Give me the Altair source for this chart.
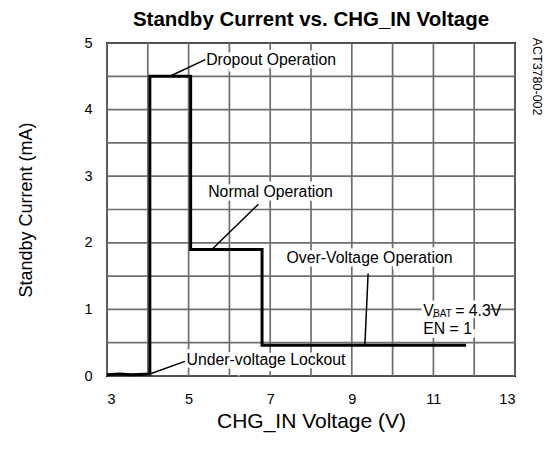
import altair as alt
import pandas as pd

# Curve data (CHG_IN voltage in V, standby current in mA)
volts = [3.0, 3.3, 3.6, 4.05, 4.05, 5.05, 5.05, 6.8, 6.8, 11.8]
current = [0.02, 0.03, 0.02, 0.03, 4.5, 4.5, 1.9, 1.9, 0.46, 0.46]

x_ticks = list(range(3, 14))
y_ticks = [i * 0.5 for i in range(11)]

# annotation labels (data coordinates)
ann_text = ["Dropout Operation", "Normal Operation", "Over-Voltage Operation", "Under-voltage Lockout", "EN = 1"]
ann_x = [5.43, 5.48, 7.40, 4.95, 10.75]
ann_y = [4.75, 2.77, 1.77, 0.24, 0.71]

# leader lines
lead_x1 = [4.54, 5.57, 9.32, 4.05]
lead_y1 = [4.5, 1.9, 0.46, 0.03]
lead_x2 = [5.41, 6.71, 9.40, 4.91]
lead_y2 = [4.75, 2.58, 1.54, 0.22]

FONT = "Liberation Sans"
AFS = 15.8

curve = pd.DataFrame({"v": volts, "i": current, "o": range(len(volts))})
ann = pd.DataFrame({"t": ann_text, "x": ann_x, "y": ann_y})
lead = pd.DataFrame({"x": lead_x1, "y": lead_y1, "x2": lead_x2, "y2": lead_y2})
vbat = pd.DataFrame({"x": [10.75], "y": [0.98]})
code = pd.DataFrame({"x": [13.54], "y": [5.08], "t": ["ACT3780-002"]})
gx = pd.DataFrame({"g": x_ticks})
gy = pd.DataFrame({"g": y_ticks})

xs = alt.Scale(domain=[3, 13], nice=False, zero=False)
ys = alt.Scale(domain=[0, 5], nice=False)

xax = alt.Axis(values=x_ticks, labelExpr="datum.value % 2 == 1 ? format(datum.value, 'd') : ''",
               grid=False, ticks=False, domain=False, labelPadding=16, labelFontSize=14.5,
               title="CHG_IN Voltage (V)", titleFontSize=21, titleFontWeight="normal", titlePadding=5)
yax = alt.Axis(values=y_ticks, labelExpr="datum.value % 1 == 0 ? format(datum.value, 'd') : ''",
               grid=False, ticks=False, domain=False, labelPadding=15, labelFontSize=14.5,
               title="Standby Current (mA)", titleFontSize=18, titleFontWeight="normal", titlePadding=48)

grid_x = alt.Chart(gx).mark_rule(color="#6e6e6e", strokeWidth=1.7).encode(
    x=alt.X("g:Q", scale=xs, axis=xax))
grid_y = alt.Chart(gy).mark_rule(color="#6e6e6e", strokeWidth=1.7).encode(
    y=alt.Y("g:Q", scale=ys, axis=yax))

base_curve = alt.Chart(curve).mark_line(color="black", strokeWidth=3, clip=False).encode(
    x=alt.X("v:Q", scale=xs),
    y=alt.Y("i:Q", scale=ys),
    order="o:Q",
)

halo = alt.Chart(ann).mark_text(align="left", baseline="middle", fontSize=AFS, font=FONT,
                                 color="white", stroke="white", strokeWidth=7).encode(
    x=alt.X("x:Q", scale=xs), y=alt.Y("y:Q", scale=ys), text="t:N")
labels = alt.Chart(ann).mark_text(align="left", baseline="middle", fontSize=AFS, font=FONT,
                                   color="black").encode(
    x=alt.X("x:Q", scale=xs), y=alt.Y("y:Q", scale=ys), text="t:N")

vb_halo = alt.Chart(vbat).mark_text(align="left", baseline="middle", fontSize=AFS, font=FONT,
                                     color="white", stroke="white", strokeWidth=7,
                                     text="V       = 4.3V").encode(
    x=alt.X("x:Q", scale=xs), y=alt.Y("y:Q", scale=ys))
vb_v = alt.Chart(vbat).mark_text(align="left", baseline="middle", fontSize=AFS, font=FONT,
                                  color="black", text="V").encode(
    x=alt.X("x:Q", scale=xs), y=alt.Y("y:Q", scale=ys))
vb_sub = alt.Chart(vbat).mark_text(align="left", baseline="middle", fontSize=10, font=FONT,
                                    color="black", text="BAT", dx=10, dy=3.5).encode(
    x=alt.X("x:Q", scale=xs), y=alt.Y("y:Q", scale=ys))
vb_rest = alt.Chart(vbat).mark_text(align="left", baseline="middle", fontSize=AFS, font=FONT,
                                     color="black", text="= 4.3V", dx=32).encode(
    x=alt.X("x:Q", scale=xs), y=alt.Y("y:Q", scale=ys))

leaders = alt.Chart(lead).mark_rule(color="black", strokeWidth=1.5).encode(
    x=alt.X("x:Q", scale=xs), y=alt.Y("y:Q", scale=ys), x2="x2:Q", y2="y2:Q")

code_text = alt.Chart(code).mark_text(align="left", baseline="middle", angle=90, fontSize=12.5,
                                       font=FONT, color="black", clip=False).encode(
    x=alt.X("x:Q", scale=xs), y=alt.Y("y:Q", scale=ys), text="t:N")

chart = alt.layer(grid_x, grid_y, base_curve, halo, vb_halo, leaders, labels, vb_v, vb_sub, vb_rest,
                  code_text).properties(
    width=408, height=333,
    autosize="none",
    background="white",
    padding={"left": 99, "top": 35, "right": 28, "bottom": 66},
    title=alt.TitleParams("Standby Current vs. CHG_IN Voltage", fontSize=20.5, fontWeight="bold",
                          font=FONT, anchor="middle", offset=5, color="black"),
).configure_view(stroke="black", strokeWidth=2).configure_axis(
    labelFont=FONT, titleFont=FONT, labelColor="black", titleColor="black"
)

chart.save("out.html", embed_options={"renderer": "svg", "actions": False})
